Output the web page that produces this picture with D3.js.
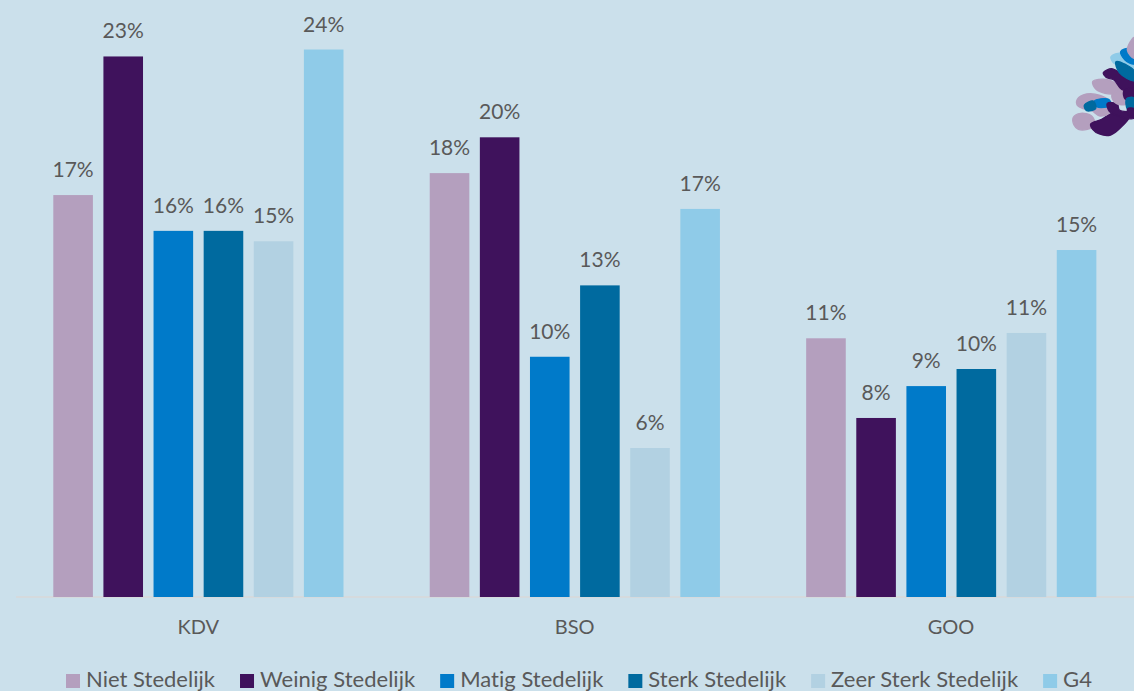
<!DOCTYPE html>
<html><head><meta charset="utf-8">
<script src="https://cdn.jsdelivr.net/npm/d3@7"></script>
<style>
html,body{margin:0;padding:0;background:#cbe0eb;overflow:hidden}
svg{display:block}
text{font-family:Lato,"Open Sans",sans-serif;fill:#595959}
</style></head><body>
<svg id="c" width="1134" height="691"></svg>
<script>
const categories = ["KDV","BSO","GOO"];
const seriesNames = ["Niet Stedelijk","Weinig Stedelijk","Matig Stedelijk","Sterk Stedelijk","Zeer Sterk Stedelijk","G4"];
const seriesColors = ["#b49fbe","#3f125c","#007ac9","#006a9f","#b2d1e2","#8fcbe8"];
const kdvValues = [17.4,23.4,15.85,15.85,15.4,23.7];
const bsoValues = [18.35,19.9,10.4,13.49,6.45,16.8];
const gooValues = [11.2,7.75,9.13,9.87,11.43,15.02];
const valuesByCategory = [kdvValues,bsoValues,gooValues];

// decorative map in the top right corner
const mapShapes = [
 ["#b49fbe",[[70,262],[92,250],[125,258],[135,285],[112,298],[85,298],[72,285]]],
 ["#3f125c",[[122,282],[155,268],[185,250],[220,252],[238,260],[210,295],[182,315],[148,312],[128,298]]],
 ["#b49fbe",[[82,208],[110,192],[150,196],[176,212],[178,248],[150,258],[125,242],[100,236],[82,226]]],
 ["#007ac9",[[133,213],[176,208],[182,226],[140,230]]],
 ["#006a9f",[[103,226],[130,213],[137,236],[110,242]]],
 ["#3f125c",[[172,220],[202,222],[208,240],[252,250],[252,265],[200,256],[178,244]]],
 ["#b49fbe",[[128,155],[170,148],[202,162],[230,182],[192,192],[165,190],[138,178]]],
 ["#b49fbe",[[188,190],[228,182],[238,218],[210,224],[188,208]]],
 ["#3f125c",[[160,128],[185,116],[205,125],[252,140],[252,182],[215,178],[192,150],[168,142]]],
 ["#3f125c",[[222,182],[252,176],[252,208],[226,208]]],
 ["#006a9f",[[230,206],[252,204],[252,238],[233,238]]],
 ["#3f125c",[[233,236],[252,236],[252,258],[238,258]]],
 ["#8fcbe8",[[183,80],[215,70],[250,98],[252,128],[225,110],[192,100]]],
 ["#006a9f",[[198,95],[228,104],[252,122],[252,152],[208,128]]],
 ["#007ac9",[[212,65],[236,56],[252,78],[252,102],[225,90]]],
 ["#b49fbe",[[232,60],[252,22],[252,85]]]
];

const svg = d3.select("#c");
const x0 = d3.scaleBand().domain(categories).range([10,1139.3]);
const x1 = d3.scaleBand().domain(seriesNames).range([43.3,333.5]).paddingInner(0.21);
const y = d3.scaleLinear().domain([0,24]).range([597,597-24*23.1]);
const color = d3.scaleOrdinal().domain(seriesNames).range(seriesColors);

svg.append("line").attr("x1",16).attr("x2",1134).attr("y1",597).attr("y2",597)
  .attr("stroke","#d9d9d9").attr("stroke-width",1.5);

const groups = svg.selectAll("g.cat").data(categories).join("g").attr("class","cat")
  .attr("transform",d=>`translate(${x0(d)},0)`);
categories.forEach((cat,ci)=>{
  const g = groups.filter(d=>d===cat);
  const rows = seriesNames.map((s,i)=>({s,v:valuesByCategory[ci][i]}));
  g.selectAll("rect").data(rows).join("rect")
    .attr("x",d=>x1(d.s)).attr("width",x1.bandwidth())
    .attr("y",d=>y(d.v)).attr("height",d=>y(0)-y(d.v))
    .attr("fill",d=>color(d.s));
  g.selectAll("text.v").data(rows).join("text").attr("class","v")
    .attr("x",d=>x1(d.s)+x1.bandwidth()/2).attr("y",d=>y(d.v)-18)
    .attr("text-anchor","middle").attr("font-size",21)
    .text(d=>Math.round(d.v)+"%");
});

svg.selectAll("text.cat").data(categories).join("text").attr("class","cat")
  .attr("x",d=>x0(d)+x0.bandwidth()/2).attr("y",634)
  .attr("text-anchor","middle").attr("font-size",20).text(d=>d);

let lx = 66;
seriesNames.forEach(s=>{
  svg.append("rect").attr("x",lx).attr("y",674).attr("width",14).attr("height",14).attr("fill",color(s));
  const t = svg.append("text").attr("x",lx+20).attr("y",686.5).attr("font-size",22).attr("letter-spacing",0.02).text(s);
  lx += 20 + t.node().getComputedTextLength() + 25;
});

const mapLine = d3.line().curve(d3.curveCatmullRomClosed.alpha(0.5));
svg.append("g").attr("transform","translate(1050,30) scale(0.3333)")
  .selectAll("path").data(mapShapes).join("path")
  .attr("d",d=>mapLine(d[1])).attr("fill",d=>d[0])
  .attr("stroke",d=>d[0]).attr("stroke-width",4).attr("stroke-linejoin","round");
</script>
</body></html>
